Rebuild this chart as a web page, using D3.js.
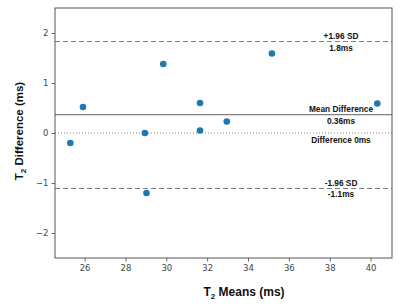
<!DOCTYPE html>
<html>
<head>
<meta charset="utf-8">
<script src="https://cdn.jsdelivr.net/npm/d3@7"></script>
<style>
  body { margin: 0; background: #fff; }
  .tick text { font-family: "DejaVu Sans", sans-serif; font-size: 8.5px; fill: #444; }
  .ann { font-family: "Liberation Sans", sans-serif; font-weight: bold; font-size: 8.3px; fill: #111; }
</style>
</head>
<body>
<div class="canvas"></div>
<script>
// data
const means = [25.3, 25.92, 28.95, 29.85, 31.65, 31.65, 32.96, 35.17, 40.33, 29.03];
const diffs = [-0.2, 0.52, 0.0, 1.38, 0.6, 0.05, 0.23, 1.59, 0.59, -1.2];
const meanDiff = 0.366;
const upperLoA = 1.83;
const lowerLoA = -1.11;
const xTicks = [26, 28, 30, 32, 34, 36, 38, 40];
const yTicks = [-2, -1, 0, 1, 2];

const W = 400, H = 307;
const margin = { top: 8, right: 8, bottom: 49, left: 55 };
const width = W - margin.left - margin.right;
const height = H - margin.top - margin.bottom;

const x = d3.scaleLinear().domain([24.55, 41.05]).range([0, width]);
const y = d3.scaleLinear().domain([-2.5, 2.5]).range([height, 0]);

const svg = d3.select(".canvas").append("svg")
    .attr("width", W).attr("height", H)
  .append("g")
    .attr("transform", `translate(${margin.left},${margin.top})`);

// reference lines
const lines = [
  { v: upperLoA, dash: "5,3" },
  { v: meanDiff, dash: null },
  { v: 0, dash: "1,2" },
  { v: lowerLoA, dash: "5,3" }
];
svg.selectAll(".ref").data(lines).join("line")
    .attr("x1", 0).attr("x2", width)
    .attr("y1", d => y(d.v)).attr("y2", d => y(d.v))
    .attr("stroke", "#808080").attr("stroke-width", 1.2)
    .attr("stroke-dasharray", d => d.dash);

// points
svg.selectAll("circle").data(means).join("circle")
    .attr("cx", d => x(d))
    .attr("cy", (d, i) => y(diffs[i]))
    .attr("r", 3.3)
    .attr("fill", "#1f77b4");

// axes
const fmt = d => d < 0 ? "\u2212" + Math.abs(d) : d;
const xAxis = svg.append("g").attr("transform", `translate(0,${height})`)
    .call(d3.axisBottom(x).tickValues(xTicks).tickSize(3.5).tickPadding(3).tickFormat(fmt));
const yAxis = svg.append("g")
    .call(d3.axisLeft(y).tickValues(yTicks).tickSize(3.5).tickPadding(3).tickFormat(fmt));
[xAxis, yAxis].forEach(a => {
  a.select(".domain").remove();
  a.selectAll(".tick line").attr("stroke", "#444").attr("stroke-width", 0.8);
});

// frame
svg.append("rect").attr("width", width).attr("height", height)
    .attr("fill", "none").attr("stroke", "#444").attr("stroke-width", 0.9);

// annotations
const cx = 341 - margin.left;
const ann = [
  { t: "+1.96 SD", v: upperLoA, dy: -3 },
  { t: "1.8ms", v: upperLoA, dy: 9 },
  { t: "Mean Difference", v: meanDiff, dy: -3 },
  { t: "0.36ms", v: meanDiff, dy: 9 },
  { t: "Difference 0ms", v: 0, dy: 10 },
  { t: "-1.96 SD", v: lowerLoA, dy: -2.5 },
  { t: "-1.1ms", v: lowerLoA, dy: 8.5 }
];
svg.selectAll(".ann").data(ann).join("text")
    .attr("class", "ann")
    .attr("x", cx)
    .attr("y", d => y(d.v) + d.dy)
    .attr("text-anchor", "middle")
    .text(d => d.t);

// axis titles
const xt = svg.append("text")
    .attr("x", 244 - margin.left).attr("y", 296 - margin.top)
    .attr("text-anchor", "middle")
    .style("font-family", "Liberation Sans, sans-serif")
    .style("font-weight", "bold").style("font-size", "12px").attr("fill", "#111");
xt.append("tspan").text("T");
xt.append("tspan").attr("dy", 3).style("font-size", "8px").text("2");
xt.append("tspan").attr("dy", -3).text(" Means (ms)");

const yt = svg.append("text")
    .attr("transform", `translate(${23 - margin.left},${131 - margin.top}) rotate(-90)`)
    .attr("text-anchor", "middle")
    .style("font-family", "Liberation Sans, sans-serif")
    .style("font-weight", "bold").style("font-size", "11.5px").attr("fill", "#111");
yt.append("tspan").text("T");
yt.append("tspan").attr("dy", 3).style("font-size", "8px").text("2");
yt.append("tspan").attr("dy", -3).text(" Difference (ms)");
</script>
</body>
</html>
